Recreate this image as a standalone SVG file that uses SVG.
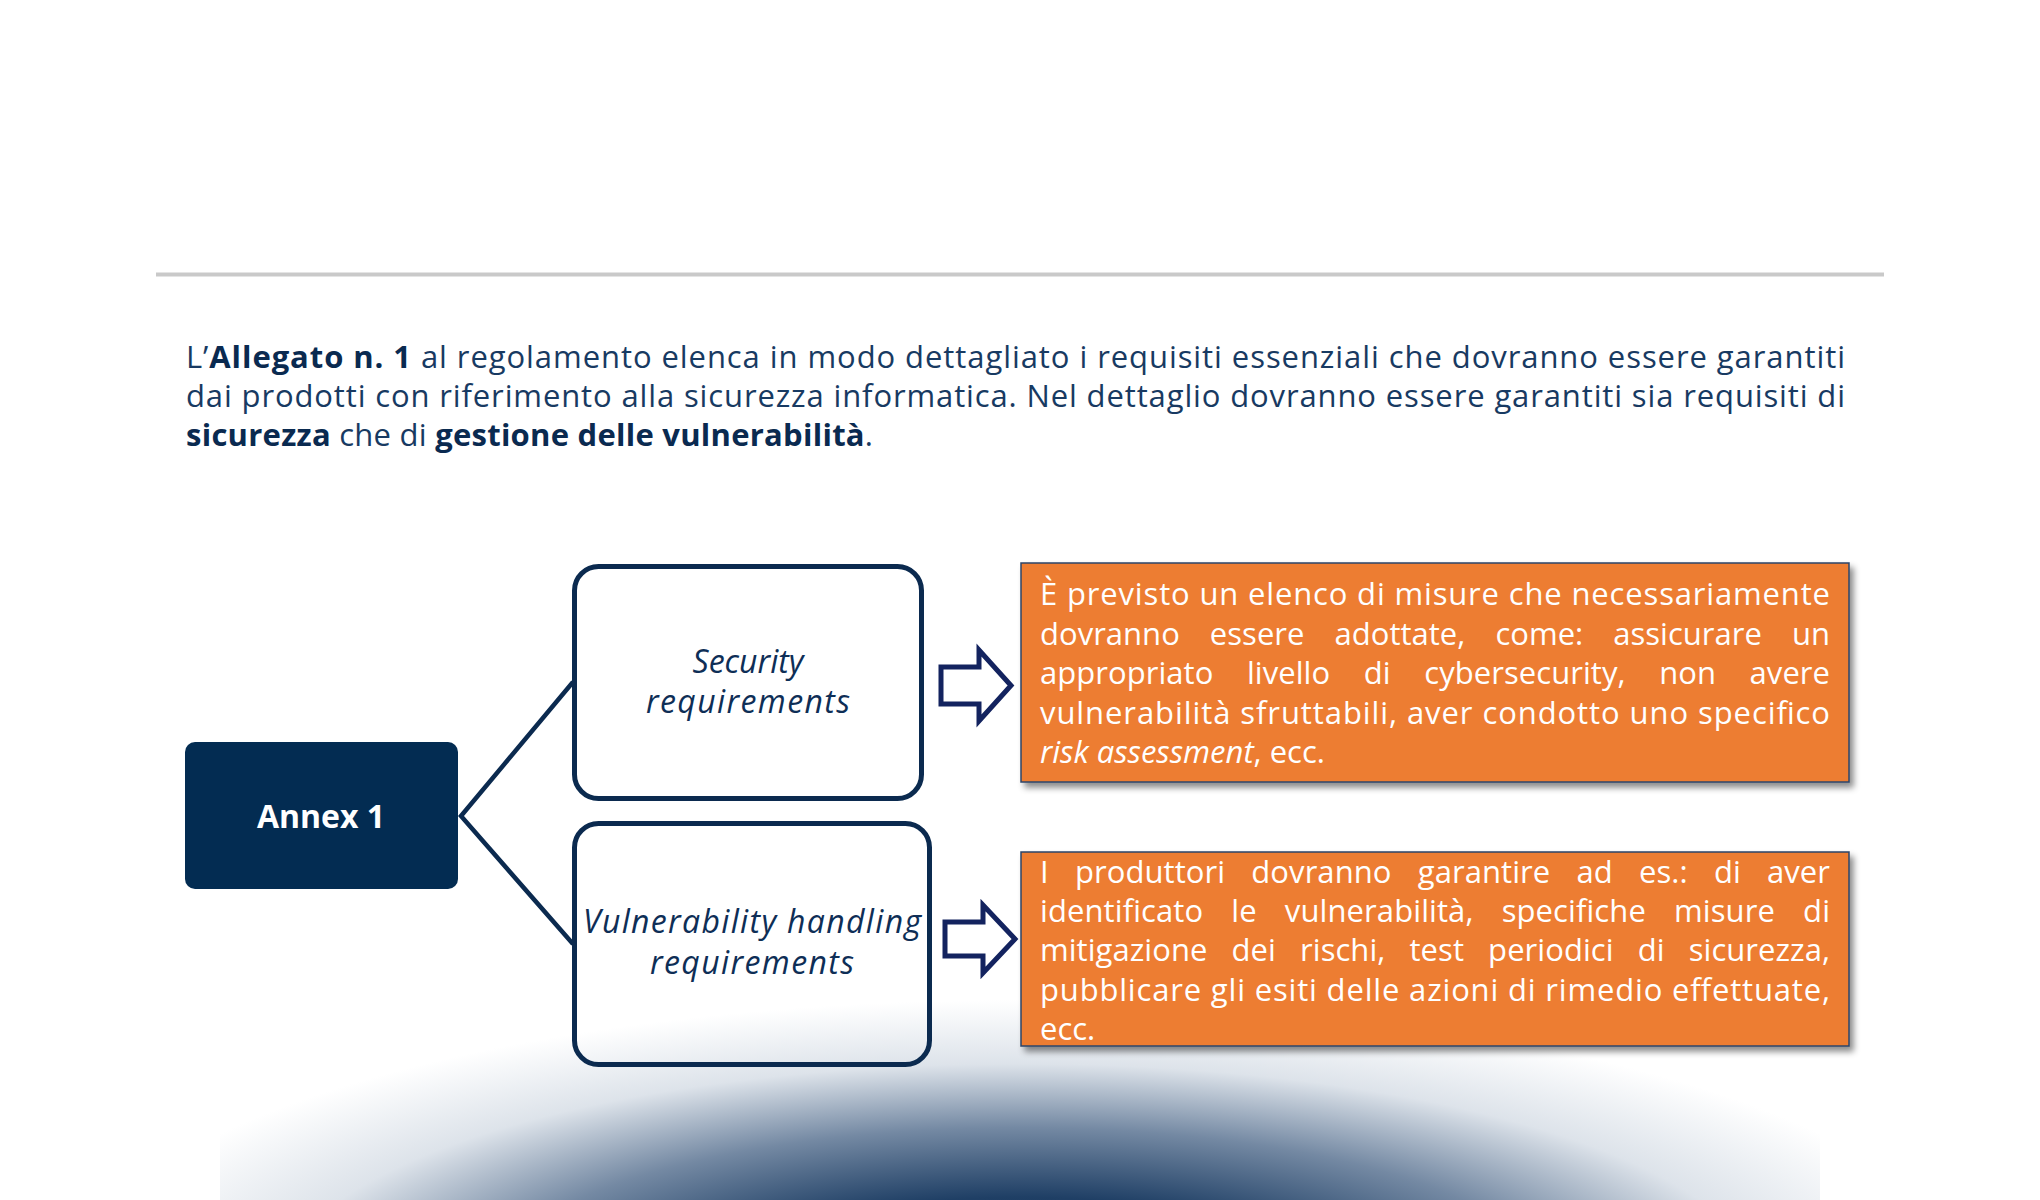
<svg xmlns="http://www.w3.org/2000/svg" width="2040" height="1200" viewBox="0 0 2040 1200">
<defs>
<style>
.para{font-family:"Open Sans","Liberation Sans",sans-serif;font-size:31px;fill:#183a62}
.b{font-weight:700;fill:#0a2a50}
.node{fill:none;stroke:#0b2a4f;stroke-width:5}
.ntxt{font-family:"Open Sans","Liberation Sans",sans-serif;font-size:32px;font-style:italic;fill:#0e2e56;text-anchor:middle}
.obox{fill:#ED7D31;stroke:#2c4468;stroke-width:1.5}
.otxt{font-family:"Open Sans","Liberation Sans",sans-serif;font-size:31px;fill:#ffffff}
.arrow{fill:#ffffff;stroke:#13235f;stroke-width:5;stroke-linejoin:miter}
.conn{fill:none;stroke:#0b2a4f;stroke-width:4.5;stroke-linejoin:miter}
</style>
<radialGradient id="glow" gradientUnits="userSpaceOnUse" cx="0" cy="0" r="1" gradientTransform="translate(1020 1290) scale(950 290)">
<stop offset="0" stop-color="#0b2b52"/>
<stop offset="0.32" stop-color="#1f3f65"/>
<stop offset="0.56" stop-color="#7489a3"/>
<stop offset="0.78" stop-color="#dde3ea"/>
<stop offset="1" stop-color="#ffffff"/>
</radialGradient>
<filter id="shadow" x="-5%" y="-10%" width="115%" height="130%">
<feDropShadow dx="4" dy="5" stdDeviation="3" flood-color="#000000" flood-opacity="0.45"/>
</filter>
</defs>
<rect x="0" y="0" width="2040" height="1200" fill="#ffffff"/>
<rect x="220" y="960" width="1600" height="240" fill="url(#glow)"/>
<line x1="156" y1="274.5" x2="1884" y2="274.5" stroke="#c9c9c9" stroke-width="4"/>

<g id="intro">
<text class="para" x="186" y="368" textLength="1659" lengthAdjust="spacing">L’<tspan class="b">Allegato n. 1</tspan> al regolamento elenca in modo dettagliato i requisiti essenziali che dovranno essere garantiti</text>
<text class="para" x="186" y="407" textLength="1659" lengthAdjust="spacing">dai prodotti con riferimento alla sicurezza informatica. Nel dettaglio dovranno essere garantiti sia requisiti di</text>
<text class="para" x="186" y="446" textLength="687" lengthAdjust="spacing"><tspan class="b">sicurezza</tspan> che di <tspan class="b">gestione delle vulnerabilità</tspan>.</text>
</g>

<g id="connectors">
<path class="conn" d="M573,682 L461,816 L573,944"/>
<path class="arrow" d="M941,667 H979 V650 L1011,685.5 L979,721 V704 H941 Z"/>
<path class="arrow" d="M945,922 H983 V905 L1015,939 L983,973 V956 H945 Z"/>
</g>

<g id="annex1">
<rect x="185" y="742" width="273" height="147" rx="10" fill="#032c52"/>
<text x="321" y="828" font-family="'Open Sans','Liberation Sans',sans-serif" font-size="32" font-weight="700" fill="#ffffff" text-anchor="middle">Annex 1</text>
</g>

<g id="security">
<rect class="node" x="574.5" y="566.5" width="347" height="232" rx="24"/>
<text class="ntxt" x="748" y="673">Security</text>
<text class="ntxt" x="748" y="713" textLength="204" lengthAdjust="spacing">requirements</text>
</g>

<g id="vulnerability">
<rect class="node" x="574.5" y="823.5" width="355" height="241" rx="24"/>
<text class="ntxt" x="752" y="933" textLength="338" lengthAdjust="spacing">Vulnerability handling</text>
<text class="ntxt" x="752" y="974" textLength="204" lengthAdjust="spacing">requirements</text>
</g>

<g id="security-detail">
<rect class="obox" x="1021" y="563" width="828" height="219" filter="url(#shadow)"/>
<text class="otxt" x="1040" y="605" textLength="790" lengthAdjust="spacing">È previsto un elenco di misure che necessariamente</text>
<text class="otxt" x="1040" y="644.5" word-spacing="22" textLength="790" lengthAdjust="spacing">dovranno essere adottate, come: assicurare un</text>
<text class="otxt" x="1040" y="684" word-spacing="25.5" textLength="790" lengthAdjust="spacing">appropriato livello di cybersecurity, non avere</text>
<text class="otxt" x="1040" y="723.5" textLength="790" lengthAdjust="spacing">vulnerabilità sfruttabili, aver condotto uno specifico</text>
<text class="otxt" x="1040" y="763"><tspan font-style="italic">risk assessment</tspan>, ecc.</text>
</g>

<g id="vulnerability-detail">
<rect class="obox" x="1021" y="852" width="828" height="194" filter="url(#shadow)"/>
<text class="otxt" x="1040" y="883" word-spacing="18" textLength="790" lengthAdjust="spacing">I produttori dovranno garantire ad es.: di aver</text>
<text class="otxt" x="1040" y="922" word-spacing="20" textLength="790" lengthAdjust="spacing">identificato le vulnerabilità, specifiche misure di</text>
<text class="otxt" x="1040" y="961" word-spacing="16" textLength="790" lengthAdjust="spacing">mitigazione dei rischi, test periodici di sicurezza,</text>
<text class="otxt" x="1040" y="1000.5" textLength="790" lengthAdjust="spacing">pubblicare gli esiti delle azioni di rimedio effettuate,</text>
<text class="otxt" x="1040" y="1040">ecc.</text>
</g>
</svg>
